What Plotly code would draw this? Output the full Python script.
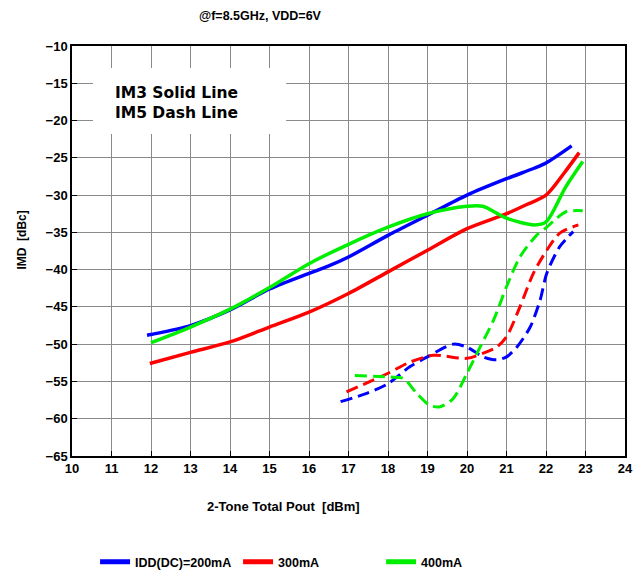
import plotly.graph_objects as go

# IM3 (solid) curves, Pout [dBm] vs IMD [dBc]
im3_200_x = [11.9, 12.0, 13.0, 14.0, 15.0, 16.0, 16.5, 17.0, 18.0, 19.0, 20.0, 21.0, 21.7, 22.0, 22.65]
im3_200_y = [-48.8, -48.7, -47.5, -45.4, -42.6, -40.5, -39.5, -38.3, -35.4, -32.7, -30.0, -27.8, -26.4, -25.7, -23.4]

im3_300_x = [11.97, 13.0, 14.0, 15.0, 16.0, 17.0, 18.0, 19.0, 20.0, 21.0, 21.5, 22.0, 22.45, 22.84]
im3_300_y = [-52.6, -51.1, -49.7, -47.7, -45.7, -43.2, -40.3, -37.4, -34.5, -32.5, -31.3, -30.0, -27.1, -24.3]

im3_400_x = [12.0, 13.0, 14.0, 15.0, 16.0, 17.0, 18.0, 19.0, 20.0, 20.4, 21.0, 21.7, 22.0, 22.5, 22.93]
im3_400_y = [-49.8, -47.7, -45.3, -42.4, -39.2, -36.6, -34.3, -32.5, -31.5, -31.5, -33.1, -34.0, -33.6, -28.9, -25.5]

# IM5 (dashed) curves
im5_200_x = [16.8, 17.46, 18.0, 18.56, 19.0, 19.65, 20.0, 20.41, 20.75, 21.0, 21.26, 21.6, 21.85, 22.02, 22.35, 22.69]
im5_200_y = [-57.7, -56.6, -55.3, -53.0, -51.7, -50.0, -50.4, -51.7, -52.1, -51.7, -50.4, -47.7, -44.1, -40.5, -36.9, -34.9]

im5_300_x = [16.95, 18.0, 18.56, 19.15, 20.0, 20.41, 20.75, 21.0, 21.34, 21.68, 22.02, 22.35, 22.82]
im5_300_y = [-56.4, -53.9, -52.4, -51.5, -51.9, -51.2, -50.4, -49.0, -45.0, -40.5, -37.4, -35.1, -34.0]

im5_400_x = [17.16, 18.05, 18.39, 18.73, 19.06, 19.32, 19.65, 20.0, 20.33, 20.67, 21.0, 21.34, 21.76, 22.02, 22.27, 22.52, 22.93]
im5_400_y = [-54.2, -54.4, -54.6, -56.6, -58.2, -58.4, -57.3, -53.9, -50.4, -46.8, -42.3, -38.3, -35.4, -34.3, -33.1, -32.2, -32.1]

series_names = ["IDD(DC)=200mA", "300mA", "400mA"]
series_colors = ["#0000ff", "#ff0000", "#00ee00"]

x_ticks = list(range(10, 25))
y_ticks = list(range(-65, -5, 5))

FAMILY = "Liberation Sans, Arial, sans-serif"
BOLD = dict(family=FAMILY, size=13, color="black", weight="bold")

fig = go.Figure()

im3 = [(im3_200_x, im3_200_y), (im3_300_x, im3_300_y), (im3_400_x, im3_400_y)]
im5 = [(im5_200_x, im5_200_y), (im5_300_x, im5_300_y), (im5_400_x, im5_400_y)]

for (xs, ys), name, col in zip(im3, series_names, series_colors):
    fig.add_trace(go.Scatter(x=xs, y=ys, mode="lines", name=name,
                             line=dict(color=col, width=3.5, shape="spline", smoothing=0.8)))

for (xs, ys), name, col in zip(im5, series_names, series_colors):
    fig.add_trace(go.Scatter(x=xs, y=ys, mode="lines", name=name, showlegend=False,
                             line=dict(color=col, width=3, dash="12px,6px",
                                       shape="spline", smoothing=0.8)))

axis_common = dict(showgrid=True, gridcolor="#8a8a8a", gridwidth=1,
                   showline=True, linecolor="black", linewidth=1.5, mirror=True,
                   ticks="inside", ticklen=5, tickcolor="black",
                   tickfont=BOLD, zeroline=False)

fig.update_xaxes(range=[10, 24], tickvals=x_ticks, **axis_common)
fig.update_yaxes(range=[-65, -10], tickvals=y_ticks, **axis_common)

# White label box inside the plot
fig.add_shape(type="rect", xref="x", yref="y", x0=10.53, x1=15.42, y0=-12.95, y1=-21.8,
              fillcolor="white", line=dict(width=0), layer="between")

fig.add_annotation(xref="x", yref="y", x=11.05, y=-17.7, xanchor="left", yanchor="middle",
                   text="<b>IM3 Solid Line<br>IM5 Dash Line</b>", align="left", showarrow=False,
                   font=dict(family="DejaVu Sans, Verdana, sans-serif", size=15.5, color="black"))

fig.add_annotation(xref="paper", yref="paper", x=0.34, y=1.073, text="@f=8.5GHz, VDD=6V",
                   showarrow=False, xanchor="center", yanchor="middle",
                   font=dict(family=FAMILY, size=12.5, color="black", weight="bold"))

fig.add_annotation(xref="paper", yref="paper", x=0.383, y=-0.123, text="2-Tone Total Pout \u00a0[dBm]",
                   showarrow=False, xanchor="center", yanchor="middle", font=BOLD)

fig.add_annotation(xref="paper", yref="paper", x=-0.09, y=0.526, text="IMD \u00a0[dBc]",
                   showarrow=False, xanchor="center", yanchor="middle", textangle=-90,
                   font=dict(family=FAMILY, size=12, color="black", weight="bold"))

fig.update_layout(
    width=638, height=573,
    margin=dict(l=72, r=13, t=46, b=117, autoexpand=False),
    paper_bgcolor="white", plot_bgcolor="white",
    showlegend=True,
    legend=dict(orientation="h", xref="container", yref="container",
                x=0.149, y=0.019, xanchor="left", yanchor="middle",
                entrywidth=98, entrywidthmode="pixels",
                font=dict(family=FAMILY, size=12.5, color="black", weight="bold"),
                bgcolor="rgba(0,0,0,0)", itemsizing="constant"),
)

fig.write_html("out.html")
